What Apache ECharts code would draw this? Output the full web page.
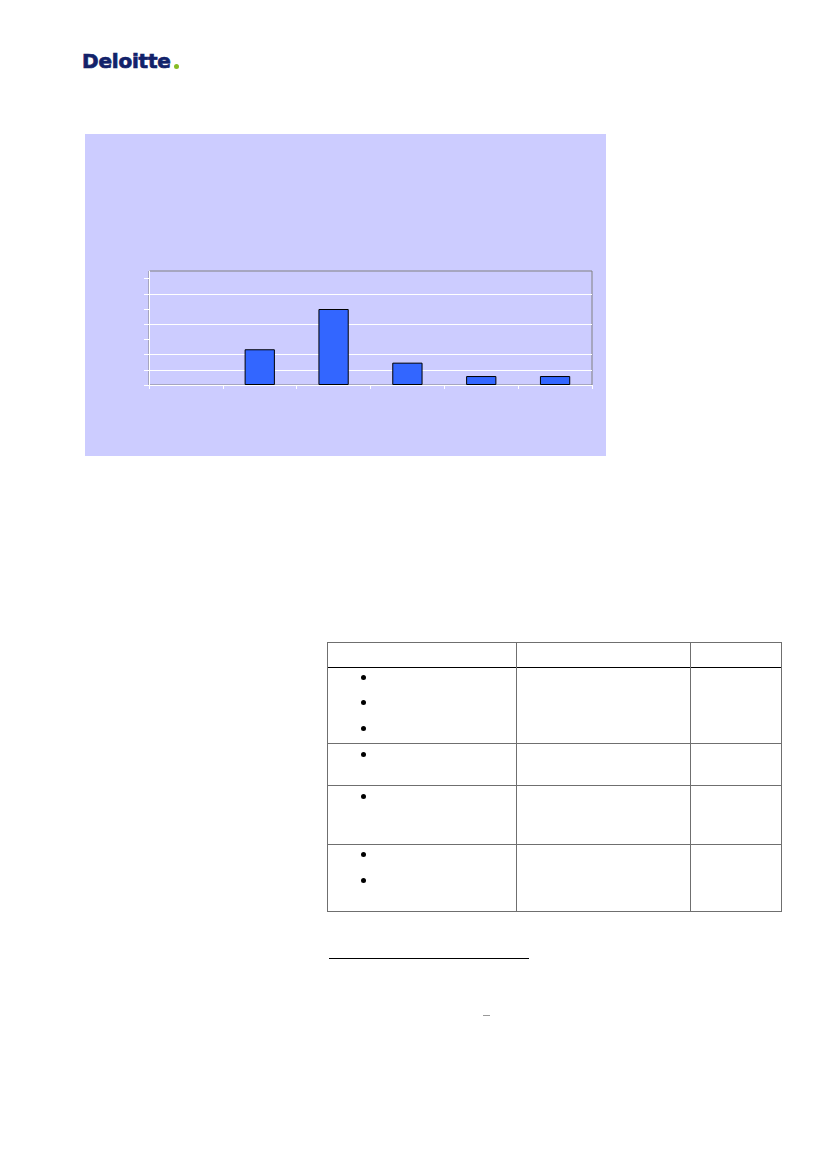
<!DOCTYPE html>
<html>
<head>
<meta charset="utf-8">
<script src="https://cdn.jsdelivr.net/npm/echarts@6/dist/echarts.min.js"></script>
<style>
html,body{margin:0;padding:0;background:#fff;}
body{width:827px;height:1169px;position:relative;overflow:hidden;font-family:"Liberation Sans",Arial,sans-serif;}
#logo{position:absolute;left:82px;top:51px;font-family:"DejaVu Sans",sans-serif;font-weight:bold;font-size:20px;line-height:20px;color:#12226A;white-space:nowrap;-webkit-text-stroke:0.7px #12226A;letter-spacing:-0.2px;}
#logodot{position:absolute;left:174px;top:63.5px;width:5px;height:5px;border-radius:50%;background:#86BC25;}
#chart{position:absolute;left:85px;top:134px;width:521px;height:322px;background:#CCCCFF;}
.h{position:absolute;height:1px;background:#6f6f6f;}
.v{position:absolute;width:1px;background:#6f6f6f;}
.b{position:absolute;width:5px;height:5px;border-radius:50%;background:#000;}
</style>
</head>
<body>
<div id="logo">Deloitte</div>
<div id="logodot"></div>
<div id="chart"></div>

<!-- table frame -->
<div class="h" style="left:327px;top:642px;width:455px;"></div>
<div class="h" style="left:327px;top:667px;width:455px;background:#000;"></div>
<div class="h" style="left:327px;top:743px;width:455px;"></div>
<div class="h" style="left:327px;top:785px;width:455px;"></div>
<div class="h" style="left:327px;top:844px;width:455px;"></div>
<div class="h" style="left:327px;top:911px;width:455px;"></div>
<div class="v" style="left:327px;top:642px;height:270px;"></div>
<div class="v" style="left:516px;top:642px;height:270px;"></div>
<div class="v" style="left:690px;top:642px;height:270px;"></div>
<div class="v" style="left:781px;top:642px;height:270px;"></div>
<div class="b" style="left:361px;top:675px;"></div>
<div class="b" style="left:361px;top:700px;"></div>
<div class="b" style="left:361px;top:726px;"></div>
<div class="b" style="left:361px;top:752px;"></div>
<div class="b" style="left:361px;top:794px;"></div>
<div class="b" style="left:361px;top:852px;"></div>
<div class="b" style="left:361px;top:878px;"></div>
<!-- footnote rule -->
<div class="h" style="left:329px;top:958px;width:200px;background:#000;"></div>
<div class="h" style="left:483px;top:1015px;width:7px;background:#999;"></div>

<script>
const categories = ['Cat 1', 'Cat 2', 'Cat 3', 'Cat 4', 'Cat 5', 'Cat 6'];
const values = [0, 23.5, 50, 14.7, 5.9, 5.9];
const yTicks = [0, 10, 20, 30, 40, 50, 60, 70];
const yMin = 0;
const yMax = 75;
const yInterval = 10;

const barData = values.map(function (v) {
  return v === 0 ? {value: v, itemStyle: {borderWidth: 0}} : {value: v};
});

const chart = echarts.init(document.getElementById('chart'), null, {renderer: 'canvas'});
chart.setOption({
  animation: false,
  backgroundColor: 'transparent',
  grid: {
    left: 64, right: 14, top: 137, bottom: 71,
    show: true, borderColor: '#808080', borderWidth: 1, backgroundColor: 'transparent'
  },
  xAxis: {
    type: 'category',
    data: categories,
    boundaryGap: true,
    axisLine: {show: true, lineStyle: {color: '#ffffff', width: 1}},
    axisTick: {show: true, alignWithLabel: false, length: 4, lineStyle: {color: '#ffffff', width: 1}},
    axisLabel: {show: false},
    splitLine: {show: false}
  },
  yAxis: {
    type: 'value',
    min: yMin, max: yMax, interval: yInterval,
    axisLine: {show: true, lineStyle: {color: '#ffffff', width: 1}},
    axisTick: {show: true, length: 5, customValues: yTicks, lineStyle: {color: '#ffffff', width: 1}},
    axisLabel: {show: false},
    splitLine: {
      show: true,
      lineStyle: {
        width: 1,
        color: ['rgba(0,0,0,0)', '#ffffff', '#ffffff', 'rgba(0,0,0,0)', '#ffffff', 'rgba(0,0,0,0)', '#ffffff', 'rgba(0,0,0,0)', 'rgba(0,0,0,0)']
      }
    }
  },
  series: [{
    type: 'bar',
    data: barData,
    barWidth: '41%',
    itemStyle: {color: '#3366FF', borderColor: '#000000', borderWidth: 1}
  }]
});
</script>
</body>
</html>
